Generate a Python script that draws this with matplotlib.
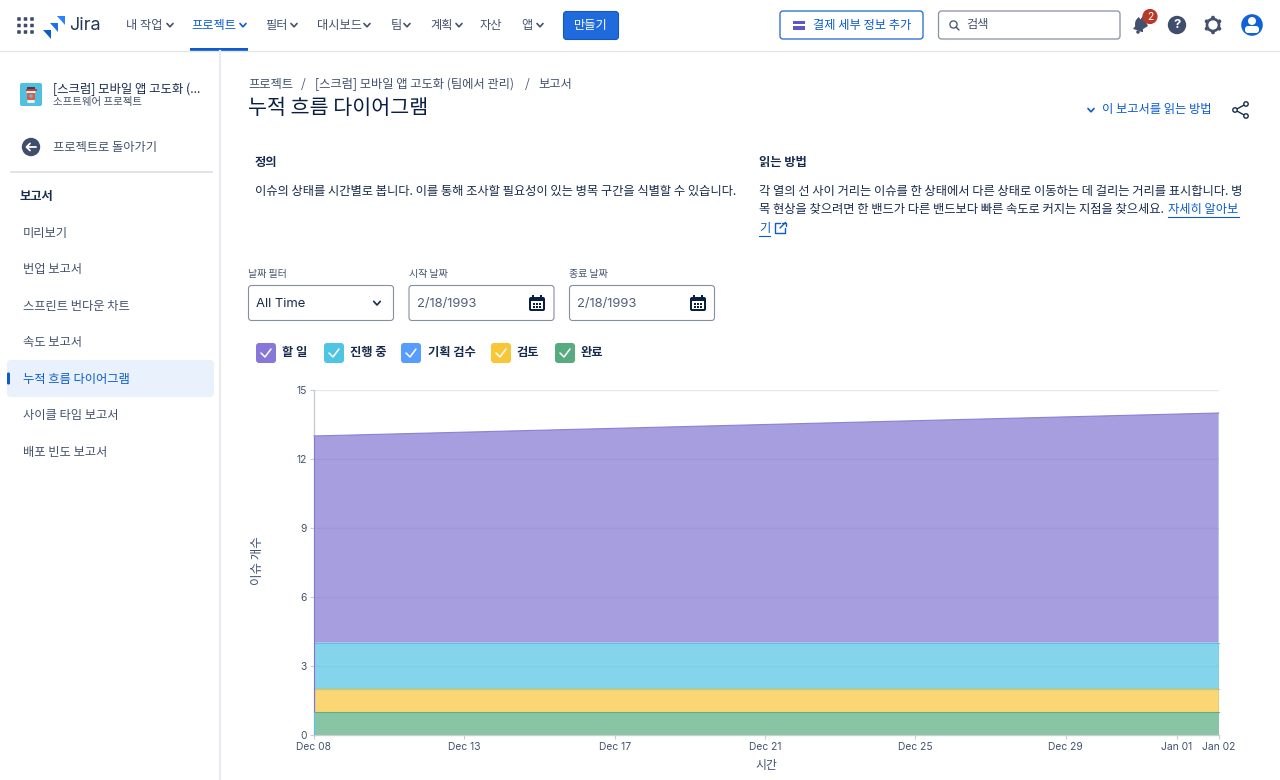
#!/usr/bin/env python3
"""Cumulative flow diagram inside a Jira report page, 1280x780."""

import matplotlib

matplotlib.use("Agg")
import matplotlib.pyplot as plt
import numpy as np
from matplotlib.colors import to_rgba
from matplotlib.patches import Circle, FancyBboxPatch, Polygon, Rectangle, Wedge

plt.rcParams["font.family"] = ["Noto Sans CJK KR", "DejaVu Sans"]

# chart data, listed bottom band first
days = [0, 24.07]
done = [1, 1]
review = [1, 1]
plan_check = [0, 0]
in_progress = [2, 2]
todo = [9, 10]
band_values = [done, review, plan_check, in_progress, todo]
band_colors = ["#57AB7F", "#F9C638", "#579DFF", "#50C4E3", "#8175D1"]

y_ticks = [0, 3, 6, 9, 12, 15]
x_tick_days = [0, 4, 8, 12, 16, 20, 22.95, 24.07]
x_tick_labels = ["Dec 08", "Dec 13", "Dec 17", "Dec 21", "Dec 25", "Dec 29", "Jan 01", "Jan 02"]

legend_names = ["할 일", "진행 중", "기획 검수", "검토", "완료"]
legend_colors = ["#8777D9", "#50C4E3", "#579DFF", "#F9C638", "#57AB7F"]
legend_box_x = [256, 324, 401, 491, 555]
legend_text_x = [282, 350, 428, 516, 581]

nav_items = [("내 작업", 126), ("프로젝트", 191), ("필터", 265), ("대시보드", 317),
             ("팀", 391), ("계획", 430), ("자산", 480), ("앱", 521)]
nav_chevrons = [170, 243, 294, 367, 407, 459, None, 540]
side_items = ["미리보기", "번업 보고서", "스프린트 번다운 차트", "속도 보고서",
              "누적 흐름 다이어그램", "사이클 타임 보고서", "배포 빈도 보고서"]

DARK = "#172B4D"
NAVY = "#091E42"
GREY = "#42526E"
BLUE = "#0C5BD0"
BODY = 12.3

fig = plt.figure(figsize=(12.8, 7.8), dpi=100, facecolor="white")

# page layer, measured in screen pixels
page = fig.add_axes([0, 0, 1, 1])
page.set_xlim(0, 1280)
page.set_ylim(780, 0)
page.axis("off")


def label(x, y, s, px=13, color=DARK, ha="left", weight="normal", family=None):
    kw = {"family": family} if family else {}
    return page.text(x, y + 1.5, s, fontsize=px * 0.72, color=color, ha=ha, va="center",
                     fontweight=weight, **kw)


def box(x, y, w, h, face="white", edge="none", lw=0.8, r=3):
    page.add_patch(FancyBboxPatch((x + r, y + r), w - 2 * r, h - 2 * r,
                                  boxstyle=f"round,pad={r},rounding_size={r}",
                                  facecolor=face, edgecolor=edge, linewidth=lw))


def line(xs, ys, color=DARK, lw=1.2):
    page.plot(xs, ys, color=color, lw=lw, solid_capstyle="round", solid_joinstyle="round")


def chevron(x, y, color=DARK, size=3, lw=1.2):
    line([x - size, x, x + size], [y - size * 0.5, y + size * 0.6, y - size * 0.5], color, lw)


def calendar(x, y):
    box(x, y + 2, 16, 14, face=NAVY, r=2)
    page.add_patch(Rectangle((x + 2, y + 6), 12, 8, facecolor="white"))
    for cx in (x + 4, x + 12):
        page.add_patch(Rectangle((cx - 1, y), 2, 3, facecolor=NAVY))
    for row in (y + 8, y + 11):
        for cx in (x + 4, x + 7, x + 10):
            page.add_patch(Rectangle((cx, row), 2, 1.6, facecolor=NAVY))


# top bar
page.plot([0, 1280], [50.5, 50.5], color="#E4E6EA", lw=1.0)
for gx in (19, 25.5, 32):
    for gy in (19, 25.5, 32):
        box(gx - 1.8, gy - 1.8, 3.6, 3.6, face="#3E4C66", r=0.8)
for dx, dy, col in [(7, -7, "#2684FF"), (0, 0, "#1D70E8"), (-7, 7, "#0C5BD0")]:
    page.add_patch(Polygon([(50 + dx, 23 + dy), (58 + dx, 23 + dy), (58 + dx, 32 + dy),
                            (54.5 + dx, 28 + dy)], facecolor=col))
label(69, 23.5, "Jira", 18, color="#253858", family="Inter")

for (name, nx), cx in zip(nav_items, nav_chevrons):
    active = name == "프로젝트"
    label(nx, 23.5, name, 12.2, color=BLUE if active else GREY)
    if cx:
        chevron(cx, 25, BLUE if active else GREY)
page.add_patch(Rectangle((190, 48), 58, 3, facecolor=BLUE))

box(563.5, 11.5, 55, 28, face="#1F6BDD", edge="#1558BC")
label(591, 23.5, "만들기", 12.2, color="white", ha="center", weight="medium")

box(780, 11, 143, 28, edge="#1A65D6", lw=0.9)
page.add_patch(Rectangle((793, 21), 12, 9, facecolor="#5E56C4"))
page.add_patch(Rectangle((793, 24), 12, 1.5, facecolor="white"))
label(813, 23.5, "결제 세부 정보 추가", 12.2, color=BLUE, weight="medium")

box(938.5, 11, 181.5, 28, edge="#8590A2", lw=0.9)
page.add_patch(Circle((953.5, 24.5), 3.6, facecolor="none", edgecolor=GREY, lw=0.9))
line([956, 959], [27, 30], GREY, 1.0)
label(966, 23, "검색", 12.2, color=GREY)

# bell with counter
page.add_patch(Wedge((1143, 24), 8, 90, 240, facecolor=GREY))
page.add_patch(Polygon([(1133, 29), (1143, 16), (1148, 26), (1140, 31)], facecolor=GREY))
page.add_patch(Circle((1138, 32), 1.8, facecolor=GREY))
page.add_patch(Circle((1150, 16.5), 7.6, facecolor="#B8382A"))
label(1150, 15, "2", 10.5, color="white", ha="center", family="Inter")

page.add_patch(Circle((1177, 25), 9.2, facecolor="#3F4E6C"))
label(1177, 23.5, "?", 13, color="white", ha="center", weight="bold", family="Inter")

# gear
page.add_patch(Circle((1213, 25), 6, facecolor="none", edgecolor=GREY, lw=1.9))
for gx, gy in [(1213, 17.6), (1213, 32.4), (1206.6, 21.3), (1219.4, 21.3), (1206.6, 28.7), (1219.4, 28.7)]:
    page.add_patch(Circle((gx, gy), 1.9, facecolor=GREY))

# avatar
page.add_patch(Circle((1252, 25), 10.8, facecolor="#0F63D6"))
page.add_patch(Circle((1252, 21), 4, facecolor="white"))
box(1245, 26, 14, 7, face="white", r=3)

# sidebar
page.plot([219.5, 219.5], [51, 780], color="#E9EBF0", lw=1.6)
box(20, 83, 22, 23, face="#4FC0E0", r=2)
page.add_patch(Rectangle((27, 86.5), 8, 2, facecolor="#3B3F57"))
page.add_patch(Rectangle((25.5, 88.5), 11, 2.5, facecolor="#C8402E"))
page.add_patch(Polygon([(26.5, 91), (35.5, 91), (34.5, 103), (27.5, 103)], facecolor="#EAF2F6"))
page.add_patch(Polygon([(26.7, 93), (35.3, 93), (34.9, 100), (27.1, 100)], facecolor="#DF5A42"))
page.add_patch(Circle((31, 96), 1.8, facecolor="#4FC0E0"))

label(53, 88, "[스크럼] 모바일 앱 고도화 (...", 12.4, weight="medium")
label(53, 101, "소프트웨어 프로젝트", 10.4, color=GREY)

page.add_patch(Circle((31, 147), 9.2, facecolor="#3F4E6C"))
line([36, 26.5], [147, 147], "white", 1.3)
line([30, 26.5, 30], [143.5, 147, 150.5], "white", 1.3)
label(53, 146, "프로젝트로 돌아가기", BODY, color=GREY)
page.plot([11, 212], [171.5, 171.5], color="#DFE1E6", lw=1.3)

label(20, 195, "보고서", BODY, weight="bold")

box(7, 360, 207, 37, face="#E9F1FC", r=4)
page.add_patch(FancyBboxPatch((7.5, 373), 2, 11, boxstyle="round,pad=0.5,rounding_size=1.2",
                              facecolor="#0C5BD0", edgecolor="none"))
for i, name in enumerate(side_items):
    active = name == "누적 흐름 다이어그램"
    label(23, 231.5 + i * 36.6, name, BODY, color=BLUE if active else GREY)

# breadcrumbs and title
label(248, 83, "프로젝트", BODY, color=GREY)
label(303, 83, "/", BODY, color=GREY, ha="center")
label(315, 83, "[스크럼] 모바일 앱 고도화 (팀에서 관리)", BODY, color=GREY)
label(527, 83, "/", BODY, color=GREY, ha="center")
label(538, 83, "보고서", BODY, color=GREY)
label(248, 107, "누적 흐름 다이어그램", 20.6, color=NAVY, weight="medium")

chevron(1091, 110, BLUE, 3)
label(1102, 108, "이 보고서를 읽는 방법", BODY, color=BLUE)
line([1246, 1235, 1246], [104, 110, 116], DARK, 1.0)
for sx, sy in [(1246, 104), (1235, 110), (1246, 116)]:
    page.add_patch(Circle((sx, sy), 2.2, facecolor="white", edgecolor=DARK, lw=1.0, zorder=3))

# definition text
label(255, 161, "정의", BODY, weight="bold")
label(255, 190, "이슈의 상태를 시간별로 봅니다. 이를 통해 조사할 필요성이 있는 병목 구간을 식별할 수 있습니다.", BODY)
label(759, 161, "읽는 방법", BODY, weight="bold")
label(759, 190, "각 열의 선 사이 거리는 이슈를 한 상태에서 다른 상태로 이동하는 데 걸리는 거리를 표시합니다. 병", BODY)
label(759, 208, "목 현상을 찾으려면 한 밴드가 다른 밴드보다 빠른 속도로 커지는 지점을 찾으세요.", BODY)
label(1168, 208, "자세히 알아보", BODY, color=BLUE)
label(759, 227, "기", BODY, color=BLUE)
page.plot([1168, 1239], [217, 217], color=BLUE, lw=0.8)
page.plot([759, 770], [236, 236], color=BLUE, lw=0.8)
line([780, 775, 775, 785, 785], [223, 223, 233, 233, 228], BLUE, 1.0)
line([780, 785.5], [228, 222.5], BLUE, 1.0)
line([782, 785.5, 785.5], [222.5, 222.5, 226], BLUE, 1.0)

# filters
label(248, 272.5, "날짜 필터", 10, color=GREY)
label(409, 272.5, "시작 날짜", 10, color=GREY)
label(569, 272.5, "종료 날짜", 10, color=GREY)
box(248.5, 285.5, 145, 35, edge="#8590A2")
box(409, 285.5, 145, 35, edge="#8590A2")
box(569.5, 285.5, 145, 35, edge="#8590A2")
label(256, 302.5, "All Time", 13, color=DARK, family="Inter")
chevron(377, 303, DARK, 3.3)
label(417, 302, "2/18/1993", 13, color="#505F79", family="Inter")
label(577, 302, "2/18/1993", 13, color="#505F79", family="Inter")
calendar(529, 295)
calendar(690, 295)

# legend
for name, col, bx, tx in zip(legend_names, legend_colors, legend_box_x, legend_text_x):
    box(bx, 343, 20, 20, face=col, r=3)
    line([bx + 5, bx + 9, bx + 15], [353, 357, 349], "white", 1.1)
    label(tx, 351, name, BODY, weight="bold")

# chart
ax = fig.add_axes([314 / 1280, (780 - 734.6) / 780, 904.6 / 1280, 344.6 / 780])
ax.patch.set_alpha(0)
ax.stackplot(days, band_values, colors=[to_rgba(c, 0.7) for c in band_colors], linewidth=0, zorder=2)

# only the top of each band gets a stroke, lower bands drawn last
levels = np.cumsum(band_values, axis=0)
for level, col in reversed(list(zip(levels, band_colors))):
    ax.plot(days, level, color=col, lw=0.8, alpha=0.85, clip_on=False, zorder=3)
ax.vlines(days[0], done[0], levels[-1][0], color=band_colors[-1], lw=0.9, zorder=3)
ax.vlines(days[0], 0, done[0], color=band_colors[3], lw=0.9, zorder=3)
ax.vlines(days[-1], levels[1][-1], levels[-1][-1], color=band_colors[3], lw=0.9, zorder=3)
ax.vlines(days[-1], done[-1], levels[1][-1], color=band_colors[0], lw=0.9, zorder=3)

ax.set_xlim(days[0], days[-1])
ax.set_ylim(y_ticks[0], y_ticks[-1])
ax.set_yticks(y_ticks)
ax.set_xticks(x_tick_days)
ax.set_xticklabels(x_tick_labels)
ax.grid(axis="y", color="#E6E8EE", lw=1.0)
ax.set_axisbelow(True)
for side in ("top", "right"):
    ax.spines[side].set_visible(False)
for side in ("left", "bottom"):
    ax.spines[side].set_color("#C9CCD3")
    ax.spines[side].set_linewidth(1.0)
ax.tick_params(axis="both", length=2.8, width=0.8, color="#C9CCD3", labelcolor="#42526E", pad=2.5)
for tick in ax.get_xticklabels() + ax.get_yticklabels():
    tick.set_fontfamily("Inter")
    tick.set_fontsize(7.4)
ax.set_xlabel("시간", fontsize=8.6, color=GREY)
ax.set_ylabel("이슈 개수", fontsize=9, color=GREY)
ax.yaxis.set_label_coords(-50 / 904.6, 0.505)
ax.xaxis.set_label_coords(0.5, -24 / 344.6)

fig.savefig("out.png", dpi=100)
